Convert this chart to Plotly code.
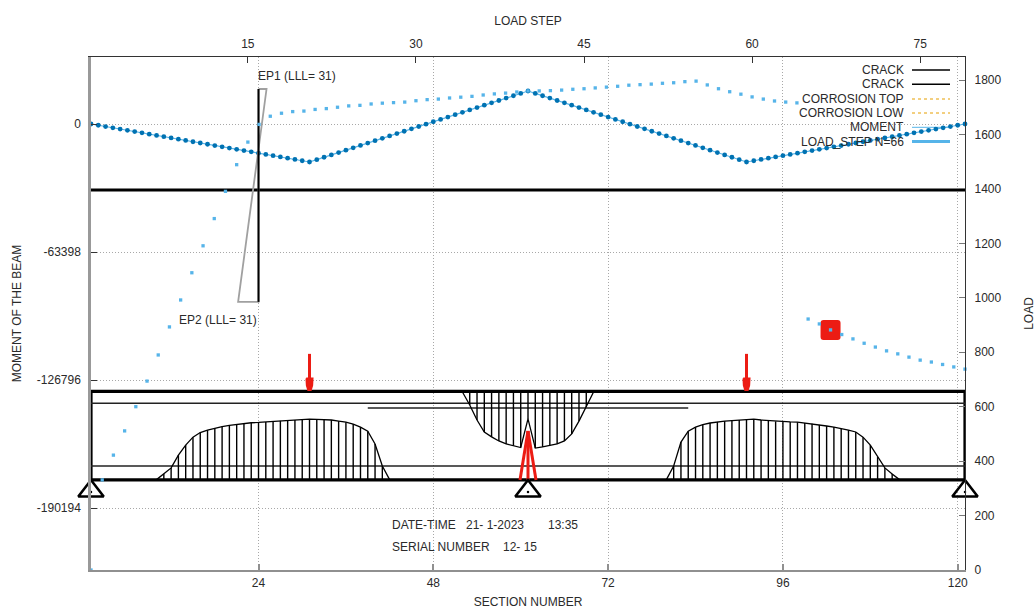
import plotly.graph_objects as go

# ---------- data ----------
section_ticks = [24, 48, 72, 96, 120]
load_step_ticks = [15, 30, 45, 60, 75]
moment_ticks = [0, -63398, -126796, -190194]
moment_tick_labels = ["0", "-63398", "-126796", "-190194"]
load_ticks = [0, 200, 400, 600, 800, 1000, 1200, 1400, 1600, 1800]

moment_values = [
    0, -627, -1255, -1882, -2509, -3137, -3764, -4391, -5019, -5646, -6273, -6901,
    -7528, -8155, -8783, -9410, -10037, -10665, -11292, -11919, -12547, -13174,
    -13801, -14429, -15056, -15683, -16311, -16938, -17565, -18193, -18820,
    -17648, -16476, -15304, -14132, -12960, -11788, -10616, -9444, -8272, -7100,
    -5928, -4756, -3584, -2412, -1240, -68, 1104, 2276, 3448, 4620, 5792, 6964,
    8136, 9308, 10480, 11652, 12824, 13996, 15168, 16340,
    15168, 13996, 12824, 11652, 10480, 9308, 8136, 6964, 5792, 4620, 3448, 2276,
    1104, -68, -1240, -2412, -3584, -4756, -5928, -7100, -8272, -9444, -10616,
    -11788, -12960, -14132, -15304, -16476, -17648, -18820,
    -18193, -17565, -16938, -16311, -15683, -15056, -14429, -13801, -13174, -12547,
    -11919, -11292, -10665, -10037, -9410, -8783, -8155, -7528, -6901, -6273, -5646,
    -5019, -4391, -3764, -3137, -2509, -1882, -1255, -627, 0,
]
load_values = [
    0, 331, 422, 511, 600, 694, 790, 893, 992, 1092, 1191, 1291, 1391, 1489, 1572,
    1637, 1667, 1678, 1684, 1686, 1692, 1695, 1700, 1705, 1707, 1712, 1715, 1717,
    1719, 1724, 1728, 1730, 1734, 1737, 1740, 1745, 1749, 1752, 1756, 1760, 1760,
    1761, 1763, 1766, 1768, 1771, 1774, 1777, 1781, 1783, 1785, 1788, 1790, 1794,
    1796, 1782, 1768, 1757, 1748, 1738, 1730, 1723, 1719, 1716, 922, 904, 882, 865,
    849, 833, 819, 805, 794, 782, 771, 764, 755, 746, 738,
]
current_step = 67
current_load = 882

beam_top = 656
beam_bottom = 331
rebar_top = 613
rebar_low = 382
extra_top_bar = 595
extra_bar_from = 39
extra_bar_to = 83
crack_level = 1396
section_first = 1
section_last = 121
section_mid = 61

left_crack_sections = list(range(10, 43))
left_crack_top = [332, 353, 375, 422, 459, 488, 505, 514, 521, 527, 531, 535, 538, 541,
                  542, 544, 546, 548, 549, 551, 553, 554, 553, 552, 551, 547, 543, 536,
                  525, 510, 463, 382, 332]
right_crack_sections = list(range(80, 113))
right_crack_top = [332, 382, 470, 510, 525, 534, 540, 544, 547, 549, 551, 554, 554, 551,
                   549, 546, 546, 544, 543, 540, 537, 533, 529, 525, 520, 514, 507, 488,
                   459, 415, 375, 353, 332]
mid_crack_sections = list(range(52, 71))
mid_crack_bottom = [654, 606, 551, 507, 489, 474, 463, 456, 450, 555, 448, 452, 457, 463,
                    474, 500, 547, 599, 654]

ep_section = 24
ep_top = 1767
ep_low = 985
ep_poly_x = [24, 25.1, 21.2, 24]
ep_poly_y = [1767, 1767, 985, 985]

load_sections = [31, 91]
arrow_top = 794
arrow_head_base = 704
arrow_head_neck = 678
arrow_tip = 660
support_sections = [1, 61, 121]
support_level = 290
support_dot_level = 287
fan_apex = 511
fan_sections = [59.9, 61, 62.1]

legend_labels = ["CRACK", "CRACK", "CORROSION TOP", "CORROSION LOW", "MOMENT", "LOAD_STEP N=66"]
# -------------------------------------------------

W, H = 1036, 609
L, R, T, B = 91, 965, 57, 570
FONT = "Liberation Sans"
TXT = "#2a2a2a"
RED = "#ec1c14"
DARK_BLUE = "#0072b2"
LIGHT_BLUE = "#56b4e9"
ORANGE = "#e69f00"
GREY = "#a0a0a0"


def px(xp):
    return (xp - L) / (R - L)


def py(yp):
    return (B - yp) / (B - T)


def seg(xs0, ys0, xs1, ys1):
    xs, ys = [], []
    for a, b, c, d in zip(xs0, ys0, xs1, ys1):
        xs += [a, c, None]
        ys += [b, d, None]
    return xs, ys


fig = go.Figure()


def beam_line(x, y, color="black", width=1.0, fill=None):
    fig.add_trace(go.Scatter(x=x, y=y, xaxis="x", yaxis="y2", mode="lines",
                             line=dict(color=color, width=width), fill=fill,
                             fillcolor=color if fill else None,
                             cliponaxis=False, hoverinfo="skip", showlegend=False))


# crack level and EP marks
beam_line([section_first, section_last], [crack_level, crack_level], width=3.2)
beam_line(ep_poly_x + ep_poly_x[:1], ep_poly_y + ep_poly_y[:1], color=GREY, width=1.8)
beam_line([ep_section, ep_section], [ep_top, ep_low], width=2)

# beam outline
beam_line([section_first, section_last, section_last, section_first, section_first],
          [beam_top, beam_top, beam_bottom, beam_bottom, beam_top], width=3.2)
beam_line([section_first, section_last], [rebar_top, rebar_top], color="#222222", width=1.5)
beam_line([section_first, section_last], [rebar_low, rebar_low], color="#222222", width=1.5)
beam_line([extra_bar_from, extra_bar_to], [extra_top_bar, extra_top_bar], color="#222222", width=1.5)

# crack envelopes and hatching
for secs, tops in ((left_crack_sections, left_crack_top), (right_crack_sections, right_crack_top)):
    beam_line(secs, tops, width=1.3)
    hx, hy = seg(secs, [beam_bottom] * len(secs), secs, tops)
    beam_line(hx, hy, width=1.4)
beam_line(mid_crack_sections, mid_crack_bottom, width=1.3)
hx, hy = seg(mid_crack_sections, [beam_top] * len(mid_crack_sections),
             mid_crack_sections, mid_crack_bottom)
beam_line(hx, hy, width=1.4)

# loads
for s in load_sections:
    beam_line([s, s], [arrow_top, arrow_head_base], color=RED, width=3)
    beam_line([s - 0.45, s + 0.45, s + 0.4, s + 0.2, s - 0.2, s - 0.4, s - 0.45],
              [arrow_head_base, arrow_head_base, arrow_head_neck, arrow_tip, arrow_tip,
               arrow_head_neck, arrow_head_base], color=RED, width=1.5, fill="toself")
for s in fan_sections:
    beam_line([section_mid, s], [fan_apex, beam_bottom], color=RED, width=3)

# supports
fig.add_trace(go.Scatter(x=support_sections, y=[support_level] * 3, xaxis="x", yaxis="y2",
                         mode="markers", cliponaxis=False, showlegend=False, hoverinfo="skip",
                         marker=dict(symbol="triangle-up-open", size=22, color="black",
                                     line=dict(color="black", width=2.6))))
fig.add_trace(go.Scatter(x=support_sections, y=[support_dot_level] * 3, xaxis="x", yaxis="y2",
                         mode="markers", cliponaxis=False, showlegend=False, hoverinfo="skip",
                         marker=dict(symbol="circle", size=2.5, color="black")))

# moment curve
fig.add_trace(go.Scatter(x=list(range(1, 122)), y=moment_values, xaxis="x", yaxis="y",
                         mode="lines+markers", name="MOMENT", cliponaxis=False, showlegend=False,
                         line=dict(color=LIGHT_BLUE, width=1.2),
                         marker=dict(symbol="circle", size=4.8, color=DARK_BLUE)))
# load path
fig.add_trace(go.Scatter(x=list(range(1, 80)), y=load_values, xaxis="x2", yaxis="y2",
                         mode="markers", name="LOAD_STEP", cliponaxis=False, showlegend=False,
                         marker=dict(symbol="square", size=3.3, color=LIGHT_BLUE)))

shapes = [
    dict(type="path", xref="x2", yref="y2", xsizemode="pixel", ysizemode="pixel",
         xanchor=current_step, yanchor=current_load, layer="below",
         path="M-7,-10 H7 Q10,-10 10,-7 V7 Q10,10 7,10 H-7 Q-10,10 -10,7 V-7 Q-10,-10 -7,-10 Z",
         fillcolor=RED, line=dict(width=0)),
]

legend_rows = [70, 84.3, 99, 113, 127.3, 141.5]
legend_styles = [
    dict(color="black", width=1.5),
    dict(color="black", width=1.5),
    dict(color=ORANGE, width=1, dash="3px,3px"),
    dict(color=ORANGE, width=1, dash="3px,3px"),
    dict(color=LIGHT_BLUE, width=1),
    dict(color=LIGHT_BLUE, width=3),
]
annotations = []
for label, row, style in zip(legend_labels, legend_rows, legend_styles):
    annotations.append(dict(text=label, xref="paper", yref="paper", x=px(906), y=py(row),
                            xanchor="right", yanchor="middle", showarrow=False,
                            font=dict(family=FONT, size=12, color=TXT)))
    shapes.append(dict(type="line", xref="paper", yref="paper", x0=px(912), x1=px(950),
                       y0=py(row), y1=py(row), line=style, layer="below"))


def note(text, xp, yp):
    annotations.append(dict(text=text, xref="paper", yref="paper", x=px(xp), y=py(yp),
                            xanchor="left", yanchor="middle", showarrow=False,
                            font=dict(family=FONT, size=12, color=TXT)))


note("EP1 (LLL= 31)", 255.7, 75.5)
note("EP2 (LLL= 31)", 177.3, 319.5)
note("DATE-TIME", 389.5, 524.5)
note("21- 1-2023", 463.5, 524.5)
note("13:35", 546, 524.5)
note("SERIAL NUMBER", 389.5, 547)
note("12- 15", 500.5, 547)

axis_font = dict(family=FONT, size=12, color=TXT)
grid = dict(showgrid=True, gridcolor="#a8a8a8", griddash="1px,2px", gridwidth=1, zeroline=False)

fig.update_layout(
    width=W, height=H, margin=dict(l=L, r=W - R, t=T, b=H - B, pad=0, autoexpand=False),
    paper_bgcolor="white", plot_bgcolor="white", showlegend=False,
    font=dict(family=FONT, size=12, color=TXT),
    shapes=shapes, annotations=annotations,
    xaxis=dict(range=[1, 121], tickvals=section_ticks, ticks="inside", ticklen=6, tickwidth=1.5,
               tickcolor="#909090", showline=True, linecolor="#909090", linewidth=1.5,
               tickfont=axis_font, ticklabelstandoff=1, anchor="y", **grid,
               title=dict(text="SECTION NUMBER", font=axis_font, standoff=16)),
    xaxis2=dict(range=[1, 79], tickvals=load_step_ticks, ticks="inside", ticklen=6, tickwidth=1,
                tickcolor="#333333", showline=True, linecolor="#333333", linewidth=1,
                tickfont=axis_font, ticklabelstandoff=3, side="top", overlaying="x", anchor="y",
                showgrid=False, zeroline=False,
                title=dict(text="LOAD STEP", font=axis_font, standoff=9)),
    yaxis=dict(range=[-220905, 33186], tickvals=moment_ticks, ticktext=moment_tick_labels,
               ticks="inside", ticklen=6, tickwidth=1, tickcolor="#333333", showline=True,
               linecolor="#999999", linewidth=2.5, tickfont=axis_font, ticklabelstandoff=5,
               anchor="x", **grid,
               title=dict(text="MOMENT OF THE BEAM", font=axis_font, standoff=13)),
    yaxis2=dict(range=[0, 1884.6], tickvals=load_ticks, ticks="inside", ticklen=6, tickwidth=1,
                tickcolor="#777777", showline=True, linecolor="#333333", linewidth=1.2,
                tickfont=axis_font, ticklabelstandoff=6, side="right", overlaying="y", anchor="x",
                showgrid=False, zeroline=False,
                title=dict(text="LOAD", font=axis_font, standoff=26)),
)

fig.write_html("out.html", config=dict(displayModeBar=False),
               post_script="document.body.style.margin='0';document.documentElement.style.overflow='hidden';")
